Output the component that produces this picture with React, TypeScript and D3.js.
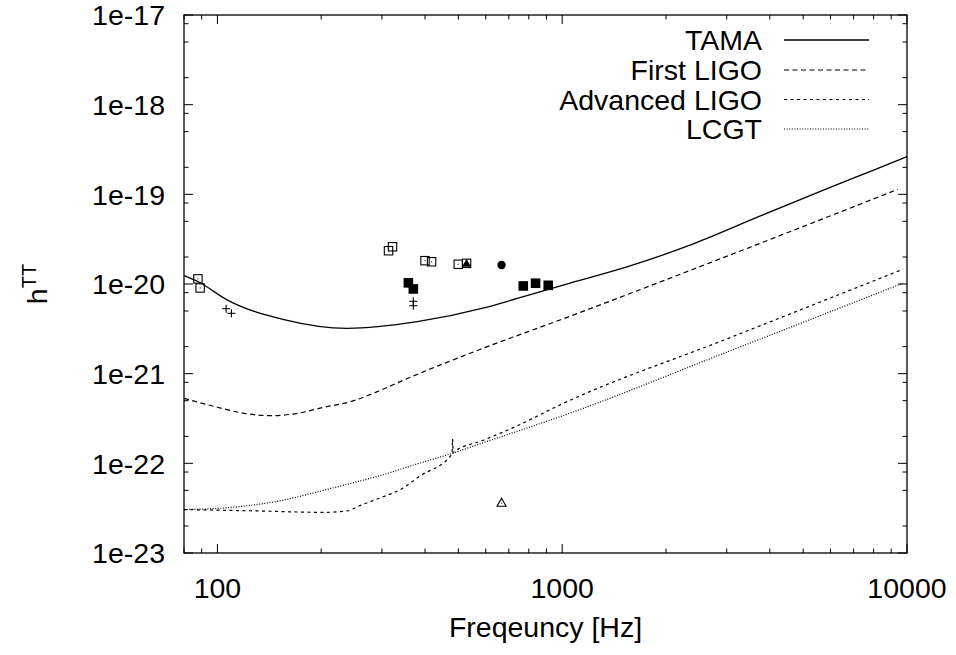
import React from "react";
import * as d3 from "d3";

// ---------- data ----------
const tamaFreq = [80, 88, 107, 156, 238, 380, 593, 741, 1012, 1540, 2400, 3740, 5840, 7970, 10000];
const tamaH = [1.24e-20, 1.06e-20, 6.6e-21, 4.0e-21, 3.2e-21, 3.8e-21, 5.4e-21, 6.9e-21, 9.8e-21, 1.55e-20, 2.8e-20, 5.7e-20, 1.15e-19, 1.85e-19, 2.63e-19];

const firstLigoFreq = [80, 100, 119.5, 142.8, 170.6, 203.9, 243.6, 291, 347.7, 577, 985, 3062, 9420];
const firstLigoH = [5.31e-22, 4.22e-22, 3.61e-22, 3.4e-22, 3.61e-22, 4.22e-22, 4.88e-22, 6.3e-22, 8.51e-22, 1.86e-21, 3.97e-21, 2.1e-20, 1.14e-19];

const advLigoFreq = [80, 124, 204, 240, 255, 303, 338, 387, 479, 481, 482.5, 484, 593, 739, 985, 3059, 9736];
const advLigoH = [3.05e-23, 2.96e-23, 2.84e-23, 2.96e-23, 3.29e-23, 4.25e-23, 5.05e-23, 7.23e-23, 1.27e-22, 1.87e-22, 1.3e-22, 1.33e-22, 1.82e-22, 2.61e-22, 4.48e-22, 2.51e-21, 1.46e-20];

const lcgtFreq = [80, 100, 124, 156, 194.5, 242.5, 304, 379, 482, 593, 739, 985, 3059, 9736];
const lcgtH = [3.05e-23, 3.14e-23, 3.39e-23, 3.9e-23, 4.79e-23, 5.95e-23, 7.51e-23, 9.84e-23, 1.3e-22, 1.71e-22, 2.27e-22, 3.31e-22, 1.79e-21, 1.02e-20];

const openSquareFreq = [87.8, 89.1, 313.5, 322, 400, 418, 499.5, 528];
const openSquareH = [1.14e-20, 9.03e-21, 2.35e-20, 2.6e-20, 1.82e-20, 1.77e-20, 1.66e-20, 1.7e-20];

const filledSquareFreq = [358, 370, 771, 837, 911];
const filledSquareH = [1.03e-20, 8.8e-21, 9.51e-21, 1.02e-20, 9.67e-21];

const plusFreq = [106, 109.8, 370, 370];
const plusH = [5.31e-21, 4.71e-21, 6.41e-21, 5.73e-21];

const filledCircleFreq = [667];
const filledCircleH = [1.63e-20];

const filledTriangleFreq = [528];
const filledTriangleH = [1.7e-20];

const openTriangleFreq = [667];
const openTriangleH = [3.64e-23];

const yTickValues = [1e-17, 1e-18, 1e-19, 1e-20, 1e-21, 1e-22, 1e-23];
const yTickLabels = ["1e-17", "1e-18", "1e-19", "1e-20", "1e-21", "1e-22", "1e-23"];
const xTickValues = [100, 1000, 10000];
const xTickLabels = ["100", "1000", "10000"];

const legendNames = ["TAMA", "First LIGO", "Advanced LIGO", "LCGT"];

// ---------- layout ----------
const W = 956, H = 655;
const L = 184, R = 907, T = 15, B = 553;
const FONT = "'Liberation Sans', Arial, Helvetica, sans-serif";
const FS = 28.5;

export default function App() {
  const x = d3.scaleLog().domain([80, 10000]).range([L, R]);
  const y = d3.scaleLog().domain([1e-23, 1e-17]).range([B, T]);

  const line = d3
    .line<[number, number]>()
    .x((d) => x(d[0]))
    .y((d) => y(d[1]))
    .curve(d3.curveMonotoneX);

  const zip = (a: number[], b: number[]) => a.map((v, i) => [v, b[i]] as [number, number]);

  const series = [
    { pts: zip(tamaFreq, tamaH), dash: "none", width: 1.3 },
    { pts: zip(firstLigoFreq, firstLigoH), dash: "5,3.5", width: 1.2 },
    { pts: zip(advLigoFreq, advLigoH), dash: "3,3.5", width: 1.2 },
    { pts: zip(lcgtFreq, lcgtH), dash: "1,1.6", width: 1.2 },
  ];

  // minor ticks
  const xMinor: number[] = [];
  [10, 100, 1000].forEach((dec) => {
    for (let m = 2; m <= 9; m++) {
      const v = dec * m;
      if (v >= 80 && v <= 10000 && !xTickValues.includes(v)) xMinor.push(v);
    }
  });
  const yMinor: number[] = [];
  for (let e = -23; e < -17; e++) {
    [2, 5, 8].forEach((m) => yMinor.push(m * Math.pow(10, e)));
  }

  const majorLen = 9, minorLen = 4.5;
  const stroke = "#000";

  const legendRowY = [40, 70, 99.5, 129];

  const sq = 8.4, fsq = 9.6;

  return (
    <svg
      width={W}
      height={H}
      style={{ position: "absolute", left: 0, top: 0, background: "#fff" }}
      fontFamily={FONT}
    >
      <rect x={0} y={0} width={W} height={H} fill="#fff" />

      {/* ticks */}
      <g stroke={stroke} strokeWidth={1}>
        {xTickValues.map((v) => (
          <g key={"xt" + v}>
            <line x1={x(v)} x2={x(v)} y1={B} y2={B - majorLen} />
            <line x1={x(v)} x2={x(v)} y1={T} y2={T + majorLen} />
          </g>
        ))}
        {xMinor.map((v) => (
          <g key={"xm" + v}>
            <line x1={x(v)} x2={x(v)} y1={B} y2={B - minorLen} />
            <line x1={x(v)} x2={x(v)} y1={T} y2={T + minorLen} />
          </g>
        ))}
        {yTickValues.map((v) => (
          <g key={"yt" + v}>
            <line x1={L} x2={L + majorLen} y1={y(v)} y2={y(v)} />
            <line x1={R} x2={R - majorLen} y1={y(v)} y2={y(v)} />
          </g>
        ))}
        {yMinor.map((v, i) => (
          <g key={"ym" + i}>
            <line x1={L} x2={L + minorLen} y1={y(v)} y2={y(v)} />
            <line x1={R} x2={R - minorLen} y1={y(v)} y2={y(v)} />
          </g>
        ))}
      </g>

      {/* curves */}
      <g fill="none" stroke="#000">
        {series.map((s, i) => (
          <path key={"s" + i} d={line(s.pts) || ""} strokeDasharray={s.dash} strokeWidth={s.width} />
        ))}
      </g>

      {/* markers */}
      <g stroke="#000" strokeWidth={1.1}>
        {openSquareFreq.map((f, i) => (
          <g key={"os" + i}>
            <rect x={x(f) - sq / 2} y={y(openSquareH[i]) - sq / 2} width={sq} height={sq} fill="none" />
            <rect x={x(f) - 0.5} y={y(openSquareH[i]) - 0.5} width={1} height={1} fill="#000" stroke="none" />
          </g>
        ))}
        {filledSquareFreq.map((f, i) => (
          <rect key={"fs" + i} x={x(f) - fsq / 2} y={y(filledSquareH[i]) - fsq / 2} width={fsq} height={fsq} fill="#000" stroke="none" />
        ))}
        {plusFreq.map((f, i) => (
          <g key={"p" + i}>
            <line x1={x(f) - 4} x2={x(f) + 4} y1={y(plusH[i])} y2={y(plusH[i])} />
            <line x1={x(f)} x2={x(f)} y1={y(plusH[i]) - 4} y2={y(plusH[i]) + 4} />
          </g>
        ))}
        {filledCircleFreq.map((f, i) => (
          <circle key={"fc" + i} cx={x(f)} cy={y(filledCircleH[i])} r={4.2} fill="#000" stroke="none" />
        ))}
        {filledTriangleFreq.map((f, i) => {
          const cx = x(f), cy = y(filledTriangleH[i]);
          return <path key={"ft" + i} d={`M${cx},${cy - 4.5}L${cx + 4.5},${cy + 3.5}L${cx - 4.5},${cy + 3.5}Z`} fill="#000" stroke="none" />;
        })}
        {openTriangleFreq.map((f, i) => {
          const cx = x(f), cy = y(openTriangleH[i]);
          return (
            <g key={"ot" + i}>
              <path d={`M${cx},${cy - 4.5}L${cx + 4.5},${cy + 3.5}L${cx - 4.5},${cy + 3.5}Z`} fill="none" />
              <rect x={cx - 0.5} y={cy} width={1} height={1} fill="#000" stroke="none" />
            </g>
          );
        })}
      </g>

      {/* frame */}
      <rect x={L} y={T} width={R - L} height={B - T} fill="none" stroke="#000" strokeWidth={1.3} />

      {/* tick labels */}
      <g fontSize={FS} fill="#000">
        {yTickValues.map((v, i) => (
          <text key={"yl" + v} x={165} y={y(v)} dy="0.36em" textAnchor="end">
            {yTickLabels[i]}
          </text>
        ))}
        {xTickValues.map((v, i) => (
          <text key={"xl" + v} x={x(v)} y={597.5} textAnchor="middle">
            {xTickLabels[i]}
          </text>
        ))}
      </g>

      {/* axis titles */}
      <text x={(L + R) / 2} y={637} textAnchor="middle" fontSize={FS}>
        Freqeuncy [Hz]
      </text>
      <text transform={`translate(47,${(T + B) / 2}) rotate(-90)`} textAnchor="middle" fontSize={FS}>
        h
        <tspan dy={-11} fontSize={20}>TT</tspan>
      </text>

      {/* legend */}
      <g fontSize={FS}>
        {legendNames.map((n, i) => (
          <g key={"lg" + i}>
            <text x={762} y={legendRowY[i]} dy="0.36em" textAnchor="end">
              {n}
            </text>
            <line
              x1={784}
              x2={869}
              y1={legendRowY[i]}
              y2={legendRowY[i]}
              stroke="#000"
              strokeWidth={series[i].width}
              strokeDasharray={series[i].dash}
            />
          </g>
        ))}
      </g>
    </svg>
  );
}
